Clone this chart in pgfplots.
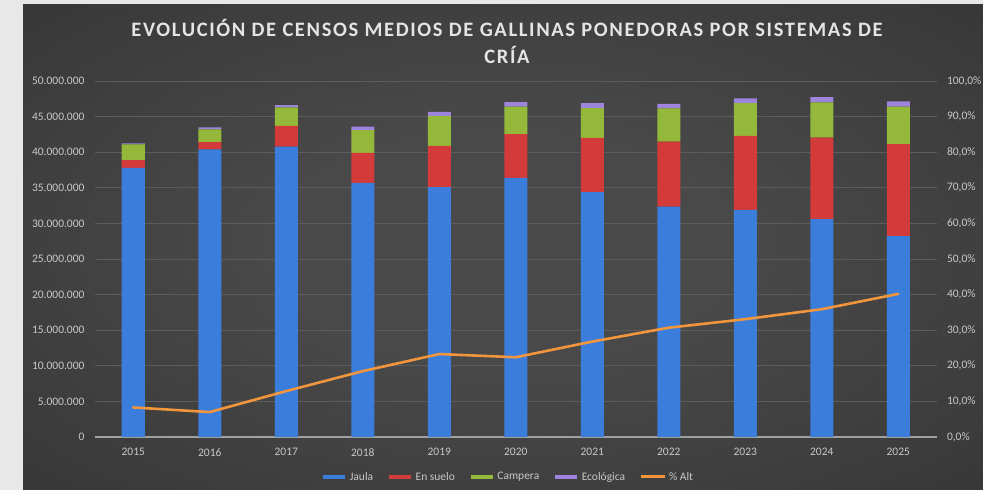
\documentclass[border=0pt]{standalone}
\usepackage{pgfplots}
\usepackage{pgfplotstable}
\pgfplotsset{compat=1.18}
\usepackage{fontspec}
\setmainfont{Carlito}
\newfontfamily\titlefont[LetterSpace=8]{Carlito}

\definecolor{margin}{HTML}{E8E8E8}
\definecolor{bgin}{HTML}{494949}
\definecolor{bgmid}{HTML}{383838}
\definecolor{bgout}{HTML}{242424}
\definecolor{titlec}{HTML}{E4E4E4}
\definecolor{labelc}{HTML}{C8C8C8}
\definecolor{gridc}{HTML}{5C5C5C}
\definecolor{axisc}{HTML}{A0A0A0}
\definecolor{cblue}{HTML}{3B7DDB}
\definecolor{cred}{HTML}{D33B3B}
\definecolor{cgreen}{HTML}{93B83A}
\definecolor{cpurple}{HTML}{9E84DC}
\definecolor{corange}{HTML}{F2963E}

\pgfdeclareradialshading{bgshade}{\pgfpoint{0bp}{0bp}}{color(0bp)=(bgin); color(12bp)=(bgin); color(35bp)=(bgmid); color(55bp)=(bgout); color(100bp)=(bgout)}

\pgfplotstableread{
year jaula suelo campera eco alt
2015 37800000 1100000 2200000 150000 8.3
2016 40400000 1000000 1800000 300000 7.0
2017 40800000 2900000 2600000 300000 12.9
2018 35700000 4200000 3200000 500000 18.5
2019 35100000 5800000 4200000 550000 23.3
2020 36400000 6150000 3850000 650000 22.4
2021 34400000 7600000 4200000 700000 26.8
2022 32350000 9150000 4650000 650000 30.7
2023 31900000 10400000 4600000 650000 33.1
2024 30600000 11450000 4950000 750000 35.9
2025 28200000 12950000 5250000 750000 40.2
}\datatable

\begin{document}
\begin{tikzpicture}[x=1pt,y=1pt]
\useasboundingbox (0,0) rectangle (983,490);
\fill[margin] (0,0) rectangle (983,490);
\shade[shading=bgshade] (23,0) rectangle (983,485);
\node[font=\titlefont\bfseries\fontsize{20.5}{27}\selectfont, text=titlec, align=center] at (507,449)
  {EVOLUCIÓN DE CENSOS MEDIOS DE GALLINAS PONEDORAS POR SISTEMAS DE\\CRÍA};

\begin{axis}[
  at={(95pt,53pt)}, anchor=south west, scale only axis,
  width=841.5pt, height=356pt,
  xmin=2014.5, xmax=2025.5, ymin=0, ymax=50000000,
  ybar stacked, bar width=23pt,
  xtick={2015,2016,2017,2018,2019,2020,2021,2022,2023,2024,2025},
  xticklabels={2015,2016,2017,2018,2019,2020,2021,2022,2023,2024,2025},
  ytick={0,5000000,10000000,15000000,20000000,25000000,30000000,35000000,40000000,45000000,50000000},
  yticklabels={0,5.000.000,10.000.000,15.000.000,20.000.000,25.000.000,30.000.000,35.000.000,40.000.000,45.000.000,50.000.000},
  scaled y ticks=false,
  axis x line*=bottom, axis y line*=left,
  x axis line style={draw=axisc, line width=1.3pt, -},
  y axis line style={draw=none},
  major tick length=0pt,
  ymajorgrids, grid style={gridc, line width=0.7pt},
  tick label style={text=labelc, font=\fontsize{11.5}{13}\selectfont},
  x tick label style={yshift=-8pt},
  y tick label style={xshift=-7pt},
  legend style={at={(0.491,-0.112)}, anchor=center, legend columns=5, draw=none, fill=none,
    text=labelc, font=\fontsize{11.5}{13}\selectfont,
    /tikz/every even column/.append style={column sep=12pt},
    /tikz/every odd column/.append style={column sep=1pt}},
]
\addplot[fill=cblue, draw=none, legend image code/.code={\draw[line width=3.5pt, cblue] (0pt,0pt) -- (22pt,0pt);}] table[x=year,y=jaula]{\datatable};
\addplot[fill=cred, draw=none, legend image code/.code={\draw[line width=3.5pt, cred] (0pt,0pt) -- (22pt,0pt);}] table[x=year,y=suelo]{\datatable};
\addplot[fill=cgreen, draw=none, legend image code/.code={\draw[line width=3.5pt, cgreen] (0pt,0pt) -- (22pt,0pt);}] table[x=year,y=campera]{\datatable};
\addplot[fill=cpurple, draw=none, legend image code/.code={\draw[line width=3.5pt, cpurple] (0pt,0pt) -- (22pt,0pt);}] table[x=year,y=eco]{\datatable};
\addlegendimage{legend image code/.code={\draw[line width=3pt, corange] (0pt,0pt) -- (24pt,0pt);}}
\legend{Jaula, En suelo, Campera, Ecológica, \% Alt}
\end{axis}

\begin{axis}[
  at={(95pt,53pt)}, anchor=south west, scale only axis,
  width=841.5pt, height=356pt,
  xmin=2014.5, xmax=2025.5, ymin=0, ymax=100,
  axis x line=none, axis y line*=right,
  y axis line style={draw=none},
  major tick length=0pt,
  ytick={0,10,20,30,40,50,60,70,80,90,100},
  yticklabels={{0,0\%},{10,0\%},{20,0\%},{30,0\%},{40,0\%},{50,0\%},{60,0\%},{70,0\%},{80,0\%},{90,0\%},{100,0\%}},
  tick label style={text=labelc, font=\fontsize{11.5}{13}\selectfont},
  yticklabel style={xshift=7pt},
]
\addplot[corange, line width=2.6pt, line join=round, line cap=round] table[x=year,y=alt]{\datatable};
\end{axis}
\end{tikzpicture}
\end{document}
